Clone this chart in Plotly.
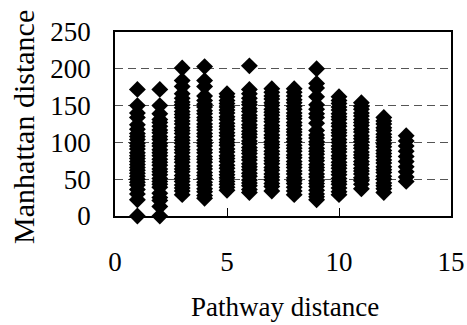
import plotly.graph_objects as go

# Pathway distance categories (x) and Manhattan distances observed for each
pathway = [1, 2, 3, 4, 5, 6, 7, 8, 9, 10, 11, 12, 13]

d1 = [172, 150, 140, 134, 124, 118, 112, 108, 104, 99, 95, 91, 86, 82, 78, 74, 70, 66, 62, 58, 54, 50, 46, 42, 36, 30, 22, 0]
d2 = [172, 150, 139, 131, 127, 122, 117, 113, 108, 104, 99, 95, 90, 86, 82, 77, 73, 69, 64, 60, 56, 51, 47, 43, 39, 31, 25, 21, 13, 0]
d3 = [201, 184, 176, 166, 160, 155, 151, 147, 142, 138, 134, 129, 125, 120, 116, 112, 107, 103, 99, 94, 90, 86, 81, 77, 73, 68, 64, 60, 55, 51, 47, 42, 38, 34, 29]
d4 = [203, 184, 176, 163, 157, 152, 148, 143, 139, 134, 130, 125, 121, 117, 112, 108, 103, 99, 95, 90, 86, 81, 77, 73, 68, 64, 59, 55, 51, 46, 42, 37, 33, 28, 24]
d5 = [166, 162, 157, 153, 148, 144, 140, 135, 131, 126, 122, 118, 113, 109, 104, 100, 96, 91, 87, 82, 78, 74, 69, 65, 60, 56, 52, 47, 43, 39, 35]
d6 = [204, 172, 166, 160, 155, 151, 146, 142, 137, 133, 129, 124, 120, 115, 111, 107, 102, 98, 93, 89, 85, 80, 76, 71, 67, 63, 58, 54, 49, 45, 41, 36, 32]
d7 = [173, 168, 163, 159, 154, 150, 145, 141, 137, 132, 128, 123, 119, 115, 110, 106, 101, 97, 93, 88, 84, 79, 75, 71, 66, 62, 57, 53, 49, 44, 40, 34]
d8 = [173, 168, 163, 158, 154, 149, 145, 140, 136, 132, 127, 123, 118, 114, 110, 105, 101, 96, 92, 88, 83, 79, 74, 70, 66, 61, 57, 52, 48, 44, 39, 34, 29]
d9 = [200, 180, 174, 162, 151, 145, 139, 134, 126, 116, 110, 106, 101, 97, 92, 88, 84, 79, 75, 70, 66, 62, 57, 53, 48, 44, 40, 35, 30, 26, 22]
d10 = [162, 157, 153, 148, 144, 139, 135, 131, 126, 122, 117, 113, 109, 104, 100, 95, 91, 87, 82, 78, 73, 69, 65, 60, 56, 51, 47, 43, 38, 33, 29]
d11 = [154, 149, 145, 140, 136, 131, 127, 123, 118, 114, 109, 105, 101, 96, 92, 87, 83, 79, 74, 70, 65, 61, 57, 52, 48, 43, 37]
d12 = [134, 129, 125, 120, 116, 111, 107, 103, 98, 94, 89, 85, 81, 76, 72, 67, 63, 59, 54, 50, 45, 41, 37, 32]
d13 = [109, 102, 95, 88, 81, 74, 67, 60, 53, 47]

columns = [d1, d2, d3, d4, d5, d6, d7, d8, d9, d10, d11, d12, d13]

x_ticks = [0, 5, 10, 15]
y_ticks = [0, 50, 100, 150, 200, 250]

xs, ys = [], []
for p, col in zip(pathway, columns):
    xs.extend([p] * len(col))
    ys.extend(col)

FONT = "Liberation Serif"

fig = go.Figure(
    go.Scatter(
        x=xs, y=ys, mode="markers",
        marker=dict(symbol="diamond", size=13, color="black", line=dict(width=0)),
        showlegend=False, hoverinfo="skip", cliponaxis=False,
    )
)

fig.update_layout(
    width=467, height=325,
    margin=dict(l=115, r=16, t=32, b=109, autoexpand=False),
    paper_bgcolor="white", plot_bgcolor="white",
    font=dict(family=FONT, size=27, color="black"),
)

fig.update_xaxes(
    range=[0, 15], tickvals=x_ticks, ticktext=[str(v) for v in x_ticks],
    showgrid=False, zeroline=False, automargin=False,
    showline=True, linecolor="black", linewidth=1.5, mirror=True,
    ticks="inside", ticklen=8, tickwidth=1, tickcolor="black",
    ticklabelstandoff=21,
    tickfont=dict(family=FONT, size=27, color="black"),
)
fig.update_yaxes(
    range=[0, 250], tickvals=y_ticks, ticktext=[str(v) for v in y_ticks],
    showgrid=True, gridcolor="#555555", gridwidth=1, griddash="8px,5px",
    zeroline=False, automargin=False,
    showline=True, linecolor="black", linewidth=1.5, mirror=True,
    ticks="", ticklabelstandoff=17,
    tickfont=dict(family=FONT, size=27, color="black"),
)

fig.add_annotation(
    text="Pathway distance", xref="paper", yref="paper",
    x=0.506, y=-0.495, showarrow=False,
    font=dict(family=FONT, size=27, color="black"),
    xanchor="center", yanchor="middle",
)
fig.add_annotation(
    text="Manhattan distance", xref="paper", yref="paper",
    x=-0.271, y=0.484, showarrow=False, textangle=-90,
    font=dict(family=FONT, size=30, color="black"),
    xanchor="center", yanchor="middle",
)

# remove the default page margin so the figure fills the 467x325 window exactly
fig.write_html(
    "out.html",
    config={"displayModeBar": False},
    post_script="document.body.style.margin='0';document.body.style.overflow='hidden';",
)
